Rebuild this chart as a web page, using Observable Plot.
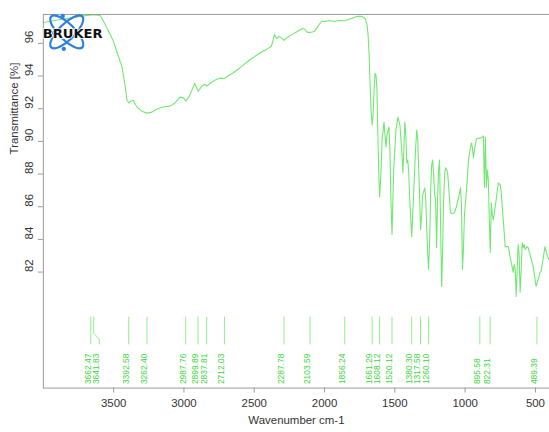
<!DOCTYPE html>
<html>
<head>
<meta charset="utf-8">
<script src="https://cdn.jsdelivr.net/npm/d3@7"></script>
<script src="https://cdn.jsdelivr.net/npm/@observablehq/plot@0.6"></script>
<style>
  html, body { margin: 0; padding: 0; background: #fff; overflow: hidden; }
  #chart { width: 549px; height: 432px; overflow: hidden; }
</style>
</head>
<body>
<div id="chart"></div>
<script>
// ---- Data ----
const wavenumber = [
  4000, 3880, 3738, 3646, 3596, 3575, 3539, 3504, 3469, 3440, 3419, 3405, 3392, 3384, 3362, 3334, 3299, 3263, 3228, 3192,
  3150, 3100, 3065, 3029, 3001, 2986, 2958, 2923, 2909, 2898, 2873, 2852, 2838, 2803, 2767, 2739, 2713, 2690, 2654, 2604,
  2555, 2505, 2463, 2413, 2378, 2356, 2342, 2321, 2289, 2264, 2229, 2193, 2158, 2137, 2122, 2103, 2073, 2052, 2023, 1995,
  1967, 1931, 1896, 1856, 1811, 1768, 1733, 1712, 1698, 1690, 1683, 1676, 1669, 1661, 1655, 1648, 1641, 1634, 1627, 1620,
  1613, 1608, 1598, 1591, 1577, 1570, 1563, 1556, 1542, 1535, 1528, 1520, 1514, 1507, 1492, 1478, 1464, 1450, 1443, 1436,
  1429, 1422, 1415, 1408, 1401, 1394, 1380, 1365, 1351, 1344, 1337, 1330, 1323, 1317, 1309, 1302, 1287, 1280, 1273, 1266,
  1260, 1252, 1245, 1238, 1231, 1224, 1217, 1210, 1203, 1196, 1189, 1182, 1174, 1167, 1160, 1153, 1146, 1139, 1132, 1125,
  1118, 1111, 1104, 1090, 1076, 1062, 1047, 1033, 1026, 1019, 1012, 1005, 990, 976, 962, 955, 948, 941, 934, 920,
  905, 891, 877, 870, 863, 856, 849, 842, 835, 828, 821, 814, 807, 800, 786, 764, 750, 743, 729, 715,
  693, 679, 672, 658, 651, 644, 637, 630, 623, 616, 609, 601, 594, 587, 580, 573, 559, 552, 538, 516,
  495, 481, 467, 460, 446, 432, 418, 404
];
const transmittance = [
  97.28, 97.46, 97.65, 97.76, 97.71, 97.40, 96.79, 96.18, 95.27, 94.54, 93.44, 92.52, 92.35, 92.42, 92.52, 92.10, 91.85, 91.73, 91.79, 91.98,
  92.10, 92.16, 92.34, 92.71, 92.65, 92.46, 92.83, 93.56, 93.26, 93.07, 93.38, 93.50, 93.38, 93.62, 93.80, 93.87, 93.85, 93.99, 94.17, 94.48,
  94.84, 95.15, 95.39, 95.63, 95.82, 96.55, 96.30, 96.43, 96.18, 96.37, 96.55, 96.73, 96.91, 96.85, 96.67, 96.67, 96.73, 96.98, 97.34, 97.34,
  97.40, 97.34, 97.40, 97.38, 97.52, 97.65, 97.65, 97.52, 97.16, 96.49, 95.27, 93.44, 91.91, 91.00, 91.60, 93.13, 94.17, 94.05, 93.13, 90.09,
  87.65, 86.60, 88.26, 90.09, 91.18, 90.40, 89.66, 90.40, 90.88, 89.48, 86.43, 84.30, 86.43, 88.44, 90.70, 91.49, 91.00, 89.35, 88.07, 89.48,
  91.18, 90.40, 88.68, 88.86, 88.07, 86.43, 84.17, 87.04, 89.78, 90.70, 90.09, 88.26, 86.43, 84.60, 85.51, 86.73, 87.16, 86.43, 84.60, 83.07,
  82.16, 83.99, 87.04, 88.56, 88.86, 87.95, 86.73, 86.43, 83.50, 86.43, 88.26, 88.86, 84.60, 81.12, 83.38, 86.43, 87.95, 88.38, 88.26, 88.13,
  87.34, 86.43, 85.63, 85.57, 85.63, 86.00, 86.55, 87.16, 86.12, 82.16, 83.38, 85.50, 87.04, 88.87, 89.66, 89.90, 89.60, 88.99, 89.48, 90.15,
  90.20, 90.20, 90.27, 90.33, 87.20, 90.27, 87.20, 88.25, 87.65, 85.20, 83.20, 86.24, 85.50, 85.20, 86.00, 87.46, 87.34, 86.85, 85.20, 83.56,
  83.56, 82.89, 82.59, 81.98, 82.46, 82.16, 80.51, 82.16, 83.68, 83.07, 80.76, 82.16, 83.80, 83.50, 83.68, 83.38, 83.56, 83.50, 83.07, 82.34,
  81.12, 81.55, 81.98, 82.04, 82.77, 83.56, 83.07, 82.77
];
const peaks = [3662.47, 3641.83, 3392.58, 3262.40, 2987.76, 2899.89, 2837.81, 2712.03, 2287.78, 2103.59,
  1856.24, 1661.29, 1608.12, 1520.12, 1380.30, 1317.58, 1260.10, 895.58, 822.31, 489.39];
const xTicks = [3500, 3000, 2500, 2000, 1500, 1000, 500];
const yTicks = [82, 84, 86, 88, 90, 92, 94, 96];

// ---- Layout / style constants ----
const W = 551, H = 432;
const mL = 43, mR = 0, mT = 14, mB = 43;
const xDomain = [4000, 400];
const yDomain = [74.9, 97.77];
const lineColor = "#72e872";
const peakTextColor = "#3dd43d";
const peakLineColor = "#93ec93";
const axisColor = "#9a9a9a";
const textColor = "#333";

const spectrum = wavenumber.map((w, i) => ({w, t: transmittance[i]}));

// de-overlap peak labels in pixel space using the x scale
const xs = Plot.scale({x: {domain: xDomain, range: [mL, W - mR]}});
const sorted = peaks.map((w, i) => ({w, i})).sort((a, b) => xs.apply(a.w) - xs.apply(b.w));
let prev = -Infinity;
const labelW = new Array(peaks.length);
for (const p of sorted) {
  let px = xs.apply(p.w);
  if (px - prev < 7.4) px = prev + 8.5;
  labelW[p.i] = xs.invert(px);
  prev = px;
}
const peakLabels = peaks.map((w, i) => ({w, lw: labelW[i], label: w.toFixed(2)}));
// leader line levels (in y units, below the drawn spectrum)
const yL0 = 79.25, yL1 = 78.25, yL2 = 77.9, yL3 = 77.6;
const leaders = peakLabels.flatMap((p, i) => [
  {id: i, x: p.w, y: yL0}, {id: i, x: p.w, y: yL1}, {id: i, x: p.lw, y: yL2}, {id: i, x: p.lw, y: yL3}
]);

const chart = Plot.plot({
  width: W, height: H,
  marginLeft: mL, marginRight: mR, marginTop: mT, marginBottom: mB,
  style: {fontFamily: "'Liberation Sans', Arial, sans-serif", fontSize: "11px", background: "#fff", color: textColor},
  x: {domain: xDomain, label: null},
  y: {domain: yDomain, label: null},
  marks: [
    Plot.axisX({ticks: xTicks, tickSize: 5, tickPadding: 6, stroke: axisColor, fill: textColor, fontSize: 11.5, label: null, tickFormat: d => String(d)}),
    Plot.axisY({ticks: yTicks, tickSize: 5, stroke: axisColor, fill: "none", label: null, tickFormat: () => ""}),
    Plot.text(yTicks, {y: d => d, frameAnchor: "left", dx: -14, rotate: -90, text: d => String(d), fill: textColor, fontSize: 11.5}),
    Plot.text(["Wavenumber cm-1"], {frameAnchor: "bottom", dy: 36, fill: textColor, fontSize: 11.5}),
    Plot.text(["Transmittance [%]"], {frameAnchor: "left", dx: -29, dy: -47, rotate: -90, fill: textColor, fontSize: 11.5}),
    Plot.line(leaders, {x: "x", y: "y", z: "id", stroke: peakLineColor, strokeWidth: 1}),
    Plot.text(peakLabels, {x: "lw", frameAnchor: "bottom", dy: -4, rotate: -90, textAnchor: "start", text: "label", fill: peakTextColor, fontSize: 8.5}),
    Plot.line(spectrum, {x: "w", y: "t", stroke: lineColor, strokeWidth: 1.1, clip: true}),
    Plot.frame({stroke: axisColor})
  ]
});
document.getElementById("chart").appendChild(chart);

// Bruker logo overlay
const svg = d3.select(chart);
const logo = svg.append("g").attr("transform", "translate(67,32)");
const blue = "#2f7fe0";
[-45, 45].forEach(a => {
  logo.append("ellipse").attr("rx", 22).attr("ry", 8).attr("fill", "none")
    .attr("stroke", blue).attr("stroke-width", 2.2).attr("transform", `rotate(${a})`);
});
[[-4, -16], [-13, 1], [-3, 17]].forEach(([cx, cy]) => {
  logo.append("circle").attr("cx", cx).attr("cy", cy).attr("r", 2.2).attr("fill", blue);
});
svg.append("text").attr("x", 43).attr("y", 38).text("BRUKER")
  .attr("text-anchor", "start")
  .attr("font-family", "'DejaVu Sans', 'Liberation Sans', sans-serif").attr("font-weight", "bold")
  .attr("font-size", 12).attr("textLength", 60).attr("lengthAdjust", "spacingAndGlyphs")
  .attr("fill", "#111").attr("stroke", "#fff").attr("stroke-width", 1.5).attr("paint-order", "stroke");
</script>
</body>
</html>
